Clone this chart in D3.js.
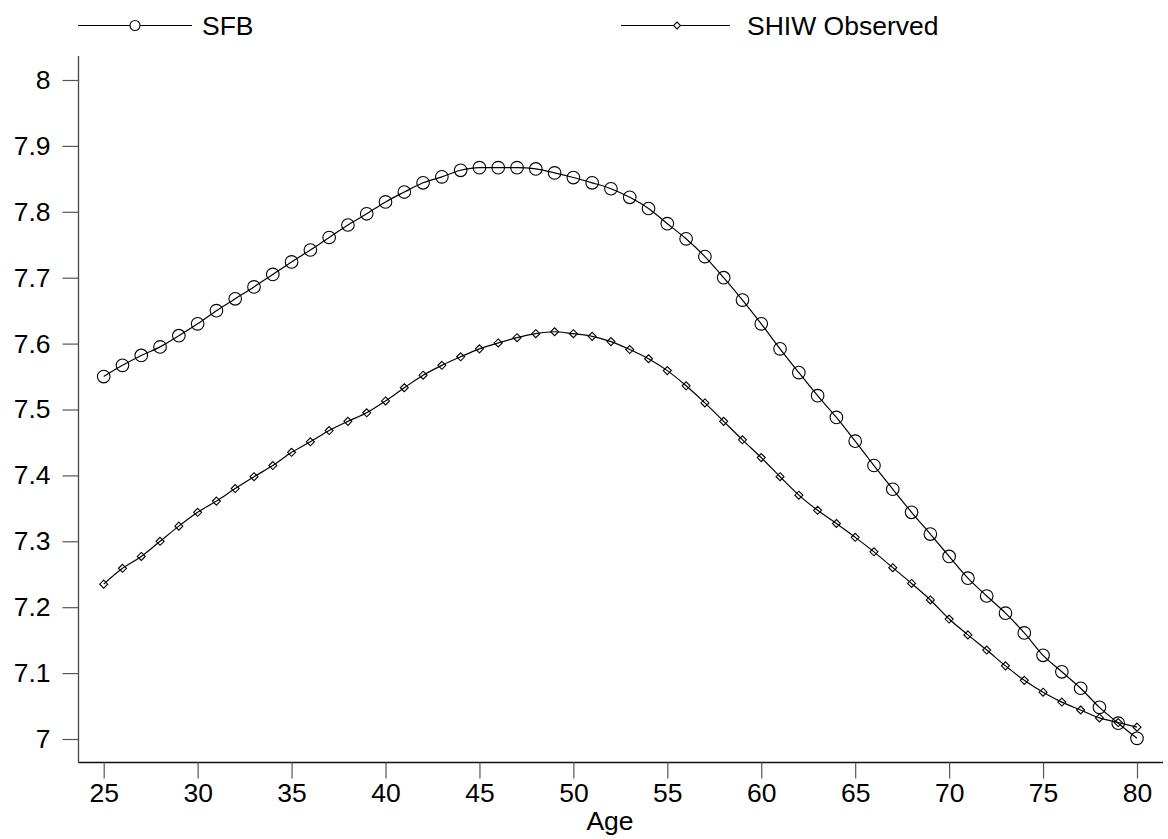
<!DOCTYPE html>
<html>
<head>
<meta charset="utf-8">
<script src="https://cdn.jsdelivr.net/npm/d3@7"></script>
<style>
  body { margin: 0; background: #fff; }
  svg { display: block; font-family: "Liberation Sans", Arial, sans-serif; }
  .axis path, .axis line { stroke: #444; }
  .axis text { font-size: 26.5px; fill: #000; font-family: "Liberation Sans", Arial, sans-serif; }
</style>
</head>
<body>
<svg id="chart" width="1168" height="839"></svg>
<script>
// Alter (x-Achse)
const ages = d3.range(25, 81);

// Werte
const sfb = [
  7.550, 7.567, 7.582, 7.595, 7.612, 7.630, 7.650, 7.668, 7.686, 7.705,
  7.724, 7.742, 7.761, 7.780, 7.797, 7.815, 7.830, 7.844, 7.853, 7.863,
  7.867, 7.867, 7.867, 7.865, 7.859, 7.852, 7.844, 7.835, 7.822, 7.805,
  7.782, 7.759, 7.732, 7.700, 7.666, 7.630, 7.592, 7.556, 7.521, 7.488,
  7.452, 7.415, 7.379, 7.344, 7.311, 7.277, 7.244, 7.217, 7.191, 7.161,
  7.127, 7.102, 7.077, 7.048, 7.024, 7.001
];

const shiw = [
  7.235, 7.259, 7.277, 7.300, 7.323, 7.344, 7.361, 7.380, 7.398, 7.415,
  7.435, 7.451, 7.468, 7.482, 7.495, 7.513, 7.533, 7.552, 7.567, 7.580,
  7.592, 7.601, 7.609, 7.615, 7.618, 7.615, 7.611, 7.603, 7.591, 7.577,
  7.559, 7.536, 7.510, 7.482, 7.454, 7.427, 7.398, 7.370, 7.347, 7.327,
  7.306, 7.284, 7.260, 7.236, 7.211, 7.182, 7.158, 7.135, 7.111, 7.089,
  7.071, 7.056, 7.044, 7.032, 7.025, 7.018
];

const yTicks = [7, 7.1, 7.2, 7.3, 7.4, 7.5, 7.6, 7.7, 7.8, 7.9, 8];
const xTicks = [25, 30, 35, 40, 45, 50, 55, 60, 65, 70, 75, 80];
const seriesNames = ['SFB', 'SHIW Observed'];

const svg = d3.select('#chart');

// Skalen
const xScale = d3.scaleLinear().domain([25, 80]).range([103.7, 1137]);
const yScale = d3.scaleLinear().domain([7, 8]).range([739, 80]);

const axisLeftX = 78.5;
const axisBottomY = 762.5;

// Achsenlinien
svg.append('line')
    .attr('x1', axisLeftX).attr('x2', axisLeftX)
    .attr('y1', 56).attr('y2', axisBottomY)
    .style('stroke', '#444').style('stroke-width', 1.3);

svg.append('line')
    .attr('x1', axisLeftX).attr('x2', 1163)
    .attr('y1', axisBottomY).attr('y2', axisBottomY)
    .style('stroke', '#111').style('stroke-width', 1.3);

// Y-Achse
const yAxis = d3.axisLeft(yScale)
    .tickValues(yTicks)
    .tickSize(16)
    .tickPadding(12)
    .tickFormat(d => d3.format('~g')(d));

svg.append('g')
    .attr('class', 'axis y-axis')
    .attr('transform', `translate(${axisLeftX},0)`)
    .call(yAxis)
    .call(g => g.select('.domain').remove())
    .call(g => g.selectAll('line').style('stroke', '#555').style('stroke-width', 1.2));

// X-Achse
const xAxis = d3.axisBottom(xScale)
    .tickValues(xTicks)
    .tickSize(16)
    .tickPadding(5)
    .tickFormat(d3.format('d'));

svg.append('g')
    .attr('class', 'axis x-axis')
    .attr('transform', `translate(0,${axisBottomY})`)
    .call(xAxis)
    .call(g => g.select('.domain').remove())
    .call(g => g.selectAll('line').style('stroke', '#555').style('stroke-width', 1.2));

// X-Achsen-Label
svg.append('text')
    .attr('x', 610)
    .attr('y', 830)
    .attr('text-anchor', 'middle')
    .style('font-size', '26.5px')
    .text('Age');

// Linien
const line = d3.line()
    .x((d, i) => xScale(ages[i]))
    .y(d => yScale(d))
    .curve(d3.curveMonotoneX);

svg.append('path')
    .datum(sfb)
    .attr('d', line)
    .style('fill', 'none')
    .style('stroke', '#000')
    .style('stroke-width', 1.2);

svg.append('path')
    .datum(shiw)
    .attr('d', line)
    .style('fill', 'none')
    .style('stroke', '#000')
    .style('stroke-width', 1.2);

// Marker
const diamond = s => `M0,${-s}L${s},0L0,${s}L${-s},0Z`;

svg.selectAll('.dot-shiw')
    .data(shiw)
    .enter()
    .append('path')
    .attr('class', 'dot-shiw')
    .attr('transform', (d, i) => `translate(${xScale(ages[i])},${yScale(d)})`)
    .attr('d', diamond(4))
    .style('fill', 'none')
    .style('stroke', '#000')
    .style('stroke-width', 1.1);

svg.selectAll('.dot-sfb')
    .data(sfb)
    .enter()
    .append('circle')
    .attr('class', 'dot-sfb')
    .attr('cx', (d, i) => xScale(ages[i]))
    .attr('cy', d => yScale(d))
    .attr('r', 6.3)
    .style('fill', 'none')
    .style('stroke', '#000')
    .style('stroke-width', 1.1);

// Legende
const legendItems = [
    { name: seriesNames[0], x1: 78, x2: 192, mx: 135, tx: 202, marker: 'circle' },
    { name: seriesNames[1], x1: 621, x2: 730, mx: 677, tx: 747, marker: 'diamond' }
];

legendItems.forEach(item => {
    const lg = svg.append('g').attr('class', 'legend');
    lg.append('line')
        .attr('x1', item.x1).attr('x2', item.x2)
        .attr('y1', 25.5).attr('y2', 25.5)
        .style('stroke', '#000').style('stroke-width', 1.2);
    if (item.marker === 'circle') {
        lg.append('circle')
            .attr('cx', item.mx).attr('cy', 25.5).attr('r', 5)
            .style('fill', '#fff').style('stroke', '#000').style('stroke-width', 1.1);
    } else {
        lg.append('path')
            .attr('transform', `translate(${item.mx},25.5)`)
            .attr('d', diamond(3.5))
            .style('fill', '#fff').style('stroke', '#000').style('stroke-width', 1.1);
    }
    lg.append('text')
        .attr('x', item.tx)
        .attr('y', 34.5)
        .style('font-size', '26.5px')
        .text(item.name);
});
</script>
</body>
</html>
